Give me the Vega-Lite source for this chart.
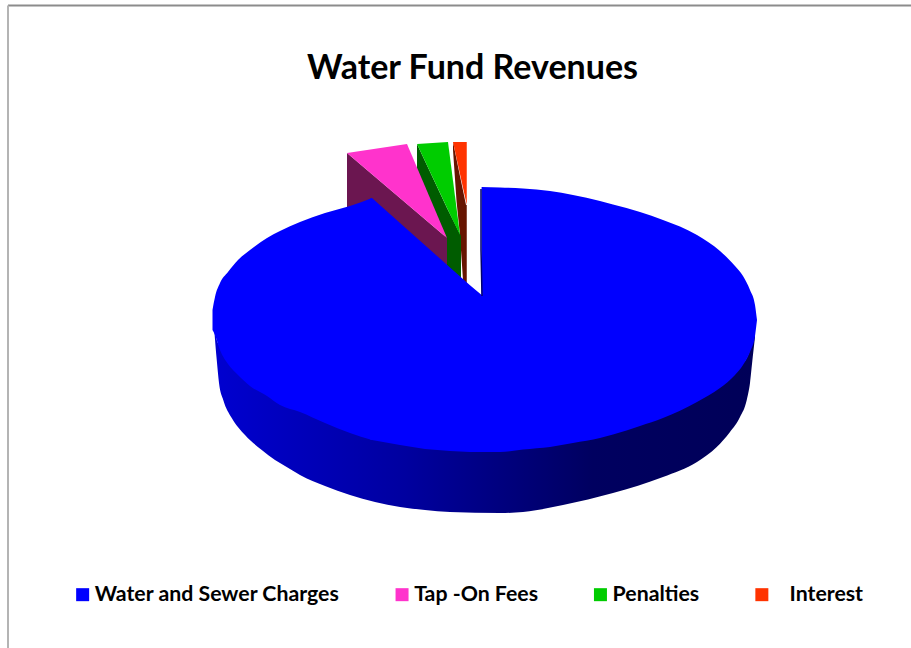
{
  "$schema": "https://vega.github.io/schema/vega-lite/v6.json",
  "width": 911,
  "height": 648,
  "padding": 0,
  "autosize": "none",
  "background": "white",
  "view": {"stroke": null},
  "title": {
    "text": "Water Fund Revenues",
    "font": "Lato",
    "fontWeight": "bold",
    "fontSize": 34,
    "color": "black",
    "anchor": "middle",
    "baseline": "alphabetic",
    "offset": -113,
    "dx": 17
  },
  "encoding": {
    "x": {"field": "x", "type": "quantitative", "axis": null, "scale": {"domain": [-194, 170.4], "nice": false, "zero": false}},
    "y": {"field": "y", "type": "quantitative", "axis": null, "scale": {"domain": [-262.4, 256], "nice": false, "zero": false}}
  },
  "layer": [
    {
      "data": {"values": [{"x": -190.8, "x2": 170.4, "y": 251.6}]},
      "mark": {"type": "rule", "color": "#8c8c8c", "strokeWidth": 2},
      "encoding": {"x2": {"field": "x2"}}
    },
    {
      "data": {"values": [{"x": -190.8, "y": 251.6, "y2": -262.4}]},
      "mark": {"type": "rule", "color": "#b4b4b4", "strokeWidth": 2},
      "encoding": {"y2": {"field": "y2"}}
    },
    {
      "data": {"values": [
        {"x": -12.8, "y": 142.4, "y2": 136},
        {"x": -11.36, "y": 128.4, "y2": 94.4},
        {"x": -10, "y": 115, "y2": 68},
        {"x": -8.8, "y": 103.6, "y2": 32},
        {"x": -7.6, "y": 92, "y2": 28},
        {"x": -7.3, "y": 92, "y2": 28}
      ]},
      "mark": {"type": "area", "orient": "vertical", "color": "#661400"},
      "encoding": {"y2": {"field": "y2"}}
    },
    {
      "data": {"values": [
        {"source": "\u200b\u00a0\u00a0\u00a0Interest", "x": -12.8, "y": 142.4, "y2": 142.4},
        {"source": "\u200b\u00a0\u00a0\u00a0Interest", "x": -7.3, "y": 142.4, "y2": 92}
      ]},
      "mark": {"type": "area", "orient": "vertical"},
      "encoding": {
        "y2": {"field": "y2"},
        "color": {
          "field": "source",
          "type": "nominal",
          "scale": {
            "domain": ["Water and Sewer Charges", "Tap -On Fees", "Penalties", "\u200b\u00a0\u00a0\u00a0Interest"],
            "range": ["#0000ff", "#ff33cc", "#00cc00", "#ff3300"]
          },
          "legend": {
            "title": null,
            "orient": "none",
            "legendX": 72,
            "legendY": 584,
            "direction": "horizontal",
            "columns": 4,
            "columnPadding": 51.4,
            "symbolType": "square",
            "symbolSize": 169,
            "symbolStrokeWidth": 0,
            "symbolOpacity": 1,
            "labelFont": "Lato",
            "labelFontWeight": "bold",
            "labelFontSize": 21.3,
            "labelColor": "black",
            "labelOffset": 1.5,
            "labelLimit": 400
          }
        }
      }
    },
    {
      "data": {"values": [
        {"x": -27.2, "y": 140.8, "y2": 118.4},
        {"x": -15.4, "y": 90.4, "y2": 64},
        {"x": -15.2, "y": 89.6, "y2": 40},
        {"x": -9.6, "y": 67.2, "y2": 28}
      ]},
      "mark": {"type": "area", "orient": "vertical", "color": "#005c00"},
      "encoding": {"y2": {"field": "y2"}}
    },
    {
      "data": {"values": [
        {"source": "Penalties", "x": -27.2, "y": 140.8, "y2": 140.8},
        {"source": "Penalties", "x": -14.8, "y": 142.4, "y2": 88},
        {"source": "Penalties", "x": -10, "y": 68, "y2": 68}
      ]},
      "mark": {"type": "area", "orient": "vertical"},
      "encoding": {
        "y2": {"field": "y2"},
        "color": {"field": "source", "type": "nominal"}
      }
    },
    {
      "data": {"values": [
        {"x": -55.2, "y": 133.6, "y2": 86.4},
        {"x": -15.2, "y": 65.6, "y2": 36}
      ]},
      "mark": {"type": "area", "orient": "vertical", "color": "#6b1650"},
      "encoding": {"y2": {"field": "y2"}}
    },
    {
      "data": {"values": [
        {"source": "Tap -On Fees", "x": -55.2, "y": 133.6, "y2": 133.6},
        {"source": "Tap -On Fees", "x": -31.2, "y": 140.8, "y2": 92.8},
        {"source": "Tap -On Fees", "x": -15.2, "y": 65.6, "y2": 65.6}
      ]},
      "mark": {"type": "area", "orient": "vertical"},
      "encoding": {
        "y2": {"field": "y2"},
        "color": {"field": "source", "type": "nominal"}
      }
    },
    {
      "data": {"values": [
        {"x": -108.3, "y": -4, "y2": -8},
        {"x": -107.3, "y": -16, "y2": -32},
        {"x": -106.4, "y": -20, "y2": -50.4},
        {"x": -104.7, "y": -25.6, "y2": -64},
        {"x": -101.3, "y": -33.6, "y2": -78.4},
        {"x": -96, "y": -45.6, "y2": -92},
        {"x": -89.3, "y": -54.4, "y2": -104},
        {"x": -84, "y": -60.8, "y2": -112},
        {"x": -80, "y": -65.6, "y2": -116.8},
        {"x": -74, "y": -70.4, "y2": -124},
        {"x": -64, "y": -80, "y2": -132.8},
        {"x": -54, "y": -88, "y2": -140},
        {"x": -44, "y": -93.6, "y2": -145.5},
        {"x": -34, "y": -97.6, "y2": -149.6},
        {"x": -24, "y": -100.8, "y2": -152},
        {"x": -14, "y": -102.4, "y2": -153.6},
        {"x": 6, "y": -103.2, "y2": -154.4},
        {"x": 15.2, "y": -100.8, "y2": -153.6},
        {"x": 31.2, "y": -96.8, "y2": -148},
        {"x": 51.2, "y": -88.8, "y2": -138.4},
        {"x": 71.2, "y": -76, "y2": -125.6},
        {"x": 84.8, "y": -63, "y2": -113.6},
        {"x": 92.7, "y": -53.6, "y2": -101.6},
        {"x": 98, "y": -44.8, "y2": -89.6},
        {"x": 102, "y": -36.8, "y2": -77.6},
        {"x": 104.7, "y": -30.4, "y2": -64},
        {"x": 106, "y": -24, "y2": -50.4},
        {"x": 107.1, "y": -17.6, "y2": -29.6},
        {"x": 108, "y": -8, "y2": -13.6}
      ]},
      "mark": {
        "type": "area",
        "orient": "vertical",
        "interpolate": "monotone",
        "color": {
          "gradient": "linear",
          "x1": 0, "y1": 0, "x2": 1, "y2": 0,
          "stops": [
            {"offset": 0, "color": "#0000d0"},
            {"offset": 0.35, "color": "#0000a0"},
            {"offset": 0.5, "color": "#000084"},
            {"offset": 0.7, "color": "#000060"},
            {"offset": 1, "color": "#000058"}
          ]
        }
      },
      "encoding": {"y2": {"field": "y2"}}
    },
    {
      "data": {"values": [
        {"source": "Water and Sewer Charges", "x": -109, "y": 8, "y2": -8},
        {"source": "Water and Sewer Charges", "x": -108, "y": 18.4, "y2": -12},
        {"source": "Water and Sewer Charges", "x": -106, "y": 29.6, "y2": -24},
        {"source": "Water and Sewer Charges", "x": -102.8, "y": 38.4, "y2": -35.2},
        {"source": "Water and Sewer Charges", "x": -98.8, "y": 48, "y2": -44},
        {"source": "Water and Sewer Charges", "x": -94, "y": 56, "y2": -52.8},
        {"source": "Water and Sewer Charges", "x": -87.2, "y": 65.6, "y2": -60.8},
        {"source": "Water and Sewer Charges", "x": -82, "y": 71.2, "y2": -68},
        {"source": "Water and Sewer Charges", "x": -74, "y": 78.4, "y2": -73.6},
        {"source": "Water and Sewer Charges", "x": -64, "y": 85.6, "y2": -82.4},
        {"source": "Water and Sewer Charges", "x": -54, "y": 91.2, "y2": -90.4},
        {"source": "Water and Sewer Charges", "x": -45.2, "y": 97.6, "y2": -96}
      ]},
      "mark": {"type": "area", "orient": "vertical", "interpolate": "monotone"},
      "encoding": {
        "y2": {"field": "y2"},
        "color": {"field": "source", "type": "nominal"}
      }
    },
    {
      "data": {"values": [
        {"source": "Water and Sewer Charges", "x": -46, "y": 97, "y2": -95.6},
        {"source": "Water and Sewer Charges", "x": -45.2, "y": 97.6, "y2": -96},
        {"source": "Water and Sewer Charges", "x": -34, "y": 77.6, "y2": -100},
        {"source": "Water and Sewer Charges", "x": -24, "y": 59.8, "y2": -103.2},
        {"source": "Water and Sewer Charges", "x": -14, "y": 42, "y2": -104.8},
        {"source": "Water and Sewer Charges", "x": -6, "y": 27.8, "y2": -105.6},
        {"source": "Water and Sewer Charges", "x": -1, "y": 19.5, "y2": -105.6}
      ]},
      "mark": {"type": "area", "orient": "vertical"},
      "encoding": {
        "y2": {"field": "y2"},
        "color": {"field": "source", "type": "nominal"}
      }
    },
    {
      "data": {"values": [
        {"source": "Water and Sewer Charges", "x": -1.36, "y": 106.4, "y2": -105.6},
        {"source": "Water and Sewer Charges", "x": 6, "y": 106, "y2": -105.6},
        {"source": "Water and Sewer Charges", "x": 15.2, "y": 105.2, "y2": -103.6},
        {"source": "Water and Sewer Charges", "x": 26, "y": 103.2, "y2": -101.6},
        {"source": "Water and Sewer Charges", "x": 35.2, "y": 100, "y2": -98.4},
        {"source": "Water and Sewer Charges", "x": 46, "y": 95.2, "y2": -94.4},
        {"source": "Water and Sewer Charges", "x": 51.2, "y": 92.4, "y2": -91.6},
        {"source": "Water and Sewer Charges", "x": 62, "y": 86.4, "y2": -84.8},
        {"source": "Water and Sewer Charges", "x": 71.2, "y": 80, "y2": -78.4},
        {"source": "Water and Sewer Charges", "x": 84.8, "y": 68, "y2": -65.6},
        {"source": "Water and Sewer Charges", "x": 94, "y": 55.2, "y2": -54.4},
        {"source": "Water and Sewer Charges", "x": 100, "y": 43.2, "y2": -44},
        {"source": "Water and Sewer Charges", "x": 103.2, "y": 35.2, "y2": -36},
        {"source": "Water and Sewer Charges", "x": 106, "y": 24, "y2": -25.6},
        {"source": "Water and Sewer Charges", "x": 108, "y": 12, "y2": -12.8},
        {"source": "Water and Sewer Charges", "x": 108.8, "y": 0, "y2": 0}
      ]},
      "mark": {"type": "area", "orient": "vertical", "interpolate": "monotone"},
      "encoding": {
        "y2": {"field": "y2"},
        "color": {"field": "source", "type": "nominal"}
      }
    },
    {
      "data": {"values": [
        {"x": -1.6, "y": 104.8},
        {"x": -1.6, "y": 56},
        {"x": -1.2, "y": 19.2}
      ]},
      "mark": {"type": "line", "color": "#00006e", "strokeWidth": 1.5},
      "encoding": {}
    }
  ]
}
